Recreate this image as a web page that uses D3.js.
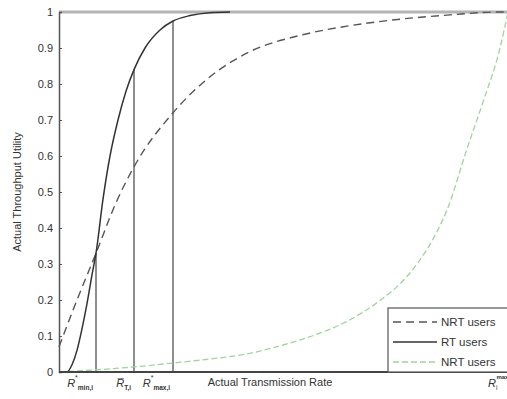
<!DOCTYPE html>
<html>
<head>
<meta charset="utf-8">
<script src="https://cdn.jsdelivr.net/npm/d3@7"></script>
<style>
  html, body { margin: 0; padding: 0; background: #fff; }
  svg { display: block; }
  text { font-family: "Liberation Sans", Arial, sans-serif; fill: #333; }
</style>
</head>
<body>
<svg id="chart" width="507" height="399"></svg>
<script>
// Transmission rate samples (arbitrary rate units) and utility per user class
const nrtRate    = [0, 4.5, 9.25, 14.25, 18.75, 28.5, 37.75, 47.75, 60.25, 72.75, 85.25, 97.75, 110.25, 115.25];
const nrtUtility = [0.07, 0.2, 0.33, 0.47, 0.57, 0.72, 0.82, 0.89, 0.935, 0.962, 0.98, 0.992, 1.0, 1.0];

const rtRate    = [0, 2, 3.25, 4.5, 5.75, 7, 8.25, 9.25, 11, 12.75, 14.75, 16.75, 18.75, 21.5, 25.25, 28.5, 32.75, 37.75, 42.75];
const rtUtility = [0, 0, 0.02, 0.06, 0.12, 0.19, 0.27, 0.33, 0.48, 0.6, 0.7, 0.78, 0.84, 0.9, 0.95, 0.975, 0.99, 0.998, 1.0];

const nrt2Rate    = [0, 9.25, 18.75, 28.5, 37.75, 47.75, 56, 64.5, 72.75, 81, 85.25, 89.5, 94.5, 97, 102, 106, 110.25, 112.25];
const nrt2Utility = [0.0, 0.006, 0.014, 0.025, 0.036, 0.052, 0.075, 0.105, 0.145, 0.205, 0.245, 0.3, 0.39, 0.45, 0.62, 0.75, 0.9, 1.0];

// Marked rates on the x axis
const markRates  = [9.25, 18.75, 28.5];
const markBase   = ["R", "R", "R"];
const markSup    = ["*", "", "*"];
const markSub    = ["min,i", "T,i", "max,i"];
const maxRate    = 107.25;

const yTicks = [0, 0.1, 0.2, 0.3, 0.4, 0.5, 0.6, 0.7, 0.8, 0.9, 1];
const legendLabels = ["NRT users", "RT users", "NRT users"];

const svg = d3.select("#chart");
const x = d3.scaleLinear().domain([0, 115.25]).range([59, 520]);
const y = d3.scaleLinear().domain([0, 1]).range([372, 12]);

// Top frame line
svg.append("line")
  .attr("x1", x(0)).attr("x2", 507).attr("y1", y(1)).attr("y2", y(1))
  .attr("stroke", "#b4b4b4").attr("stroke-width", 3);

// Left axis
const yAxis = d3.axisLeft(y).tickValues(yTicks).tickSize(-3).tickPadding(6)
  .tickFormat(d => d === 0 || d === 1 ? d3.format("d")(d) : d3.format(".1f")(d));
const gy = svg.append("g").attr("transform", `translate(${x(0)},0)`).call(yAxis);
gy.select(".domain").attr("stroke", "#555").attr("stroke-width", 1.5);
gy.selectAll(".tick line").attr("stroke", "#555");
gy.selectAll(".tick text").attr("font-size", 11).attr("fill", "#333")
  .style("font-family", "'Liberation Sans', Arial, sans-serif");

const line = d3.line().x(d => x(d[0])).y(d => y(d[1])).curve(d3.curveMonotoneX);

// Vertical markers from the axis up to the RT curve
const rtInterp = r => {
  const i = d3.bisectLeft(rtRate, r);
  if (rtRate[i] === r) return rtUtility[i];
  const t = (r - rtRate[i - 1]) / (rtRate[i] - rtRate[i - 1]);
  return rtUtility[i - 1] + t * (rtUtility[i] - rtUtility[i - 1]);
};
svg.selectAll(".mark").data(markRates).join("line")
  .attr("class", "mark")
  .attr("x1", d => x(d)).attr("x2", d => x(d))
  .attr("y1", y(0)).attr("y2", d => y(rtInterp(d)))
  .attr("stroke", "#444").attr("stroke-width", 1.2);

// NRT users (green)
svg.append("path")
  .datum(nrt2Rate.map((r, i) => [r, nrt2Utility[i]]))
  .attr("d", line).attr("fill", "none")
  .attr("stroke", "#9fd39f").attr("stroke-width", 1.3).attr("stroke-dasharray", "6,3");

// NRT users (dashed)
svg.append("path")
  .datum(nrtRate.map((r, i) => [r, nrtUtility[i]]))
  .attr("d", line).attr("fill", "none")
  .attr("stroke", "#555").attr("stroke-width", 1.4).attr("stroke-dasharray", "8,5");

// RT users (solid)
svg.append("path")
  .datum(rtRate.map((r, i) => [r, rtUtility[i]]))
  .attr("d", line).attr("fill", "none")
  .attr("stroke", "#333").attr("stroke-width", 1.5);

// Bottom axis line
svg.append("line")
  .attr("x1", x(0)).attr("x2", 507).attr("y1", y(0)).attr("y2", y(0))
  .attr("stroke", "#444").attr("stroke-width", 2);

// Legend
const lg = svg.append("g");
lg.append("rect").attr("x", 388).attr("y", 308).attr("width", 140).attr("height", 64)
  .attr("fill", "#fff").attr("stroke", "#555").attr("stroke-width", 1.2);
const legendStyles = [
  { stroke: "#555", dash: "8,5", w: 1.4 },
  { stroke: "#333", dash: null, w: 1.5 },
  { stroke: "#9fd39f", dash: "6,3", w: 1.3 }
];
const legendY = [322, 342, 362];
legendLabels.forEach((lab, i) => {
  lg.append("line").attr("x1", 393).attr("x2", 437)
    .attr("y1", legendY[i]).attr("y2", legendY[i])
    .attr("stroke", legendStyles[i].stroke).attr("stroke-width", legendStyles[i].w)
    .attr("stroke-dasharray", legendStyles[i].dash);
  lg.append("text").attr("x", 441).attr("y", legendY[i] + 4)
    .attr("font-size", 11.5).text(lab);
});

// X-axis rate marks
markRates.forEach((r, i) => {
  const t = svg.append("text").attr("x", x(r) - 3).attr("y", 387)
    .attr("text-anchor", "end").attr("font-size", 11);
  t.append("tspan").attr("font-style", "italic").text(i === 1 ? "R\u0305" : markBase[i]);
  if (markSup[i]) t.append("tspan").attr("font-size", 7).attr("dy", -7).text(markSup[i]);
  t.append("tspan").attr("font-size", 6.5).attr("font-weight", "bold")
    .attr("dy", markSup[i] ? 10 : 3).text(markSub[i]);
});

const tm = svg.append("text").attr("x", x(maxRate)).attr("y", 387).attr("font-size", 11);
tm.append("tspan").attr("font-style", "italic").text("R");
tm.append("tspan").attr("font-size", 6.5).attr("dy", 3).text("i");
tm.append("tspan").attr("font-size", 6).attr("font-weight", "bold").attr("dx", -1).attr("dy", -11).text("max");

// Axis titles
svg.append("text").attr("x", 270).attr("y", 386).attr("text-anchor", "middle")
  .attr("font-size", 11).text("Actual Transmission Rate");
svg.append("text").attr("transform", "translate(21,192) rotate(-90)")
  .attr("text-anchor", "middle").attr("font-size", 11).text("Actual Throughput Utility");
</script>
</body>
</html>
